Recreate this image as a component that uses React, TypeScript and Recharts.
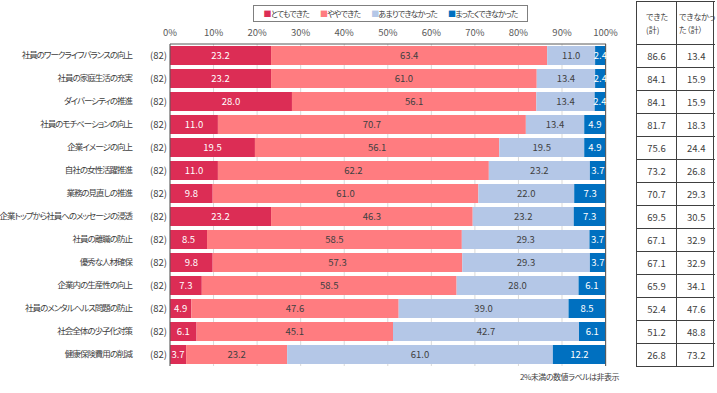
import React from 'react'
import {
    Bar,
    BarChart,
    CartesianGrid,
    LabelList,
    Legend,
    ReferenceLine,
    XAxis,
    YAxis,
} from 'recharts'

const categories = [
    '社員のワークライフバランスの向上',
    '社員の家庭生活の充実',
    'ダイバーシティの推進',
    '社員のモチベーションの向上',
    '企業イメージの向上',
    '自社の女性活躍推進',
    '業務の見直しの推進',
    '企業トップから社員へのメッセージの浸透',
    '社員の離職の防止',
    '優秀な人材確保',
    '企業内の生産性の向上',
    '社員のメンタルヘルス問題の防止',
    '社会全体の少子化対策',
    '健康保険費用の削減',
]
const totemo = [23.2, 23.2, 28.0, 11.0, 19.5, 11.0, 9.8, 23.2, 8.5, 9.8, 7.3, 4.9, 6.1, 3.7]
const yaya = [63.4, 61.0, 56.1, 70.7, 56.1, 62.2, 61.0, 46.3, 58.5, 57.3, 58.5, 47.6, 45.1, 23.2]
const amari = [11.0, 13.4, 13.4, 13.4, 19.5, 23.2, 22.0, 23.2, 29.3, 29.3, 28.0, 39.0, 42.7, 61.0]
const mattaku = [2.4, 2.4, 2.4, 4.9, 4.9, 3.7, 7.3, 7.3, 3.7, 3.7, 6.1, 8.5, 6.1, 12.2]
const dekitaTotal = [86.6, 84.1, 84.1, 81.7, 75.6, 73.2, 70.7, 69.5, 67.1, 67.1, 65.9, 52.4, 51.2, 26.8]
const dekinakattaTotal = [13.4, 15.9, 15.9, 18.3, 24.4, 26.8, 29.3, 30.5, 32.9, 32.9, 34.1, 47.6, 48.8, 73.2]
const sampleSize = 82
const xTicks = [0, 10, 20, 30, 40, 50, 60, 70, 80, 90, 100]
const seriesNames = ['とてもできた', 'ややできた', 'あまりできなかった', 'まったくできなかった']
const seriesColors = ['#DC2D55', '#FF7C80', '#B4C7E7', '#0070C0']

const data = categories.map((name, i) => ({
    name,
    totemo: totemo[i],
    yaya: yaya[i],
    amari: amari[i],
    mattaku: mattaku[i],
}))

const FONT = "'Noto Sans CJK JP', sans-serif"
const palt = { fontFeatureSettings: '"palt"' }

const fmt = (v: any) => (Number(v) < 2 ? '' : Number(v).toFixed(1))

const CategoryTick = ({ x, y, payload }: any) => (
    <g>
        <text
            x={x - 38}
            y={y}
            dy="0.35em"
            textAnchor="end"
            fontSize={8.5}
            fill="#404040"
            style={{ ...palt, letterSpacing: -1 }}
        >
            {payload.value}
        </text>
        <text x={x - 3} y={y} dy="0.35em" textAnchor="end" fontSize={9.5} fill="#404040">
            ({sampleSize})
        </text>
    </g>
)

const renderLegend = () => (
    <div
        style={{
            border: '1px solid #7F7F7F',
            boxSizing: 'border-box',
            height: 17,
            display: 'flex',
            alignItems: 'center',
            justifyContent: 'center',
            gap: 11,
            fontSize: 8,
            letterSpacing: -0.8,
            color: '#404040',
            whiteSpace: 'nowrap',
            ...palt,
        }}
    >
        {seriesNames.map((name, i) => (
            <span key={name}>
                <span style={{ color: seriesColors[i] }}>■</span>
                {name}
            </span>
        ))}
    </div>
)

const cell: React.CSSProperties = {
    height: 23,
    boxSizing: 'border-box',
    borderTop: '1px solid #404040',
    display: 'flex',
    alignItems: 'center',
    justifyContent: 'center',
    fontSize: 9.5,
    color: '#404040',
}

const App = () => {
    return (
        <div style={{ position: 'absolute', left: 0, top: 0, width: 717, height: 393, fontFamily: FONT, background: '#fff' }}>
            <BarChart
                width={717}
                height={393}
                data={data}
                layout="vertical"
                barSize={19}
                margin={{ top: 14, right: 111, bottom: 27, left: 0 }}
            >
                <CartesianGrid xAxisId="top" horizontal={false} stroke="#D9D9D9" />
                <XAxis
                    xAxisId="top"
                    orientation="top"
                    type="number"
                    domain={[0, 100]}
                    ticks={xTicks}
                    tickFormatter={(v) => `${v}%`}
                    tickLine={false}
                    axisLine={{ stroke: '#595959' }}
                    tick={{ fontSize: 9.5, fill: '#595959' }}
                    height={30}
                    interval={0}
                />
                <XAxis
                    xAxisId="bottom"
                    orientation="bottom"
                    type="number"
                    domain={[0, 100]}
                    tick={false}
                    tickLine={false}
                    axisLine={{ stroke: '#595959' }}
                    height={0}
                />
                <YAxis
                    type="category"
                    dataKey="name"
                    width={170}
                    tickLine={false}
                    tickSize={0}
                    tickMargin={0}
                    axisLine={{ stroke: '#595959' }}
                    tick={<CategoryTick />}
                    interval={0}
                />
                <ReferenceLine xAxisId="top" x={100} stroke="#595959" />
                <Legend
                    layout="horizontal"
                    verticalAlign="middle"
                    align="center"
                    content={renderLegend}
                    wrapperStyle={{ top: 5, left: 253, width: 275 }}
                />
                <Bar xAxisId="top" dataKey="totemo" name={seriesNames[0]} stackId="a" fill={seriesColors[0]} isAnimationActive={false}>
                    <LabelList dataKey="totemo" position="center" fill="#FFFFFF" fontSize={9.5} formatter={fmt} />
                </Bar>
                <Bar xAxisId="top" dataKey="yaya" name={seriesNames[1]} stackId="a" fill={seriesColors[1]} isAnimationActive={false}>
                    <LabelList dataKey="yaya" position="center" fill="#404040" fontSize={9.5} formatter={fmt} />
                </Bar>
                <Bar xAxisId="top" dataKey="amari" name={seriesNames[2]} stackId="a" fill={seriesColors[2]} isAnimationActive={false}>
                    <LabelList dataKey="amari" position="center" fill="#404040" fontSize={9.5} formatter={fmt} />
                </Bar>
                <Bar xAxisId="top" dataKey="mattaku" name={seriesNames[3]} stackId="a" fill={seriesColors[3]} isAnimationActive={false}>
                    <LabelList dataKey="mattaku" position="center" fill="#FFFFFF" fontSize={9.5} formatter={fmt} />
                </Bar>
            </BarChart>

            <div
                style={{
                    position: 'absolute',
                    left: 636,
                    top: 1,
                    width: 78,
                    boxSizing: 'border-box',
                    border: '1px solid #404040',
                    borderTop: 'none',
                    display: 'flex',
                }}
            >
                {[dekitaTotal, dekinakattaTotal].map((col, c) => (
                    <div key={c} style={{ flex: c === 0 ? '0 0 39px' : '1 1 auto', borderLeft: c === 1 ? '1px solid #404040' : 'none' }}>
                        <div
                            style={{
                                ...cell,
                                height: 43,
                                fontSize: 8,
                                lineHeight: '13px',
                                justifyContent: 'flex-start',
                                padding: c === 0 ? '0 0 0 9px' : '0 0 0 2px',
                                whiteSpace: 'nowrap',
                                ...palt,
                            }}
                        >
                            {c === 0 ? (
                                <span>できた<br />(計)</span>
                            ) : (
                                <span>できなかっ<br />た（計）</span>
                            )}
                        </div>
                        {col.map((v, i) => (
                            <div key={i} style={cell}>
                                {v.toFixed(1)}
                            </div>
                        ))}
                    </div>
                ))}
            </div>

            <div
                style={{
                    position: 'absolute',
                    left: 520,
                    top: 371,
                    fontSize: 8,
                    letterSpacing: -0.5,
                    color: '#404040',
                    whiteSpace: 'nowrap',
                    ...palt,
                }}
            >
                2%未満の数値ラベルは非表示
            </div>
        </div>
    )
}

export default App
